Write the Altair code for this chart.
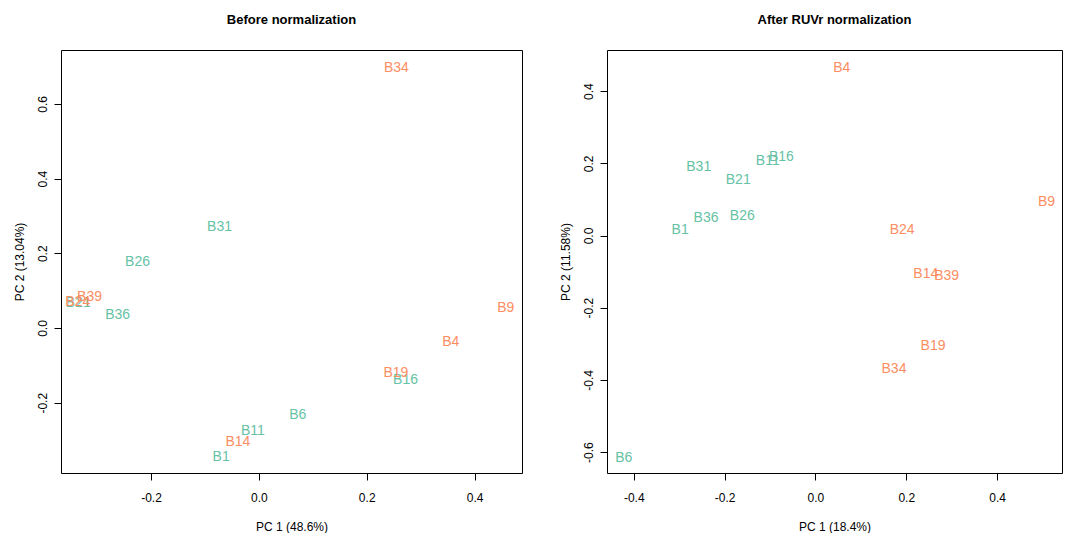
import altair as alt
import pandas as pd

samples = ["B1", "B4", "B6", "B9", "B11", "B14", "B16", "B19", "B21", "B24",
           "B26", "B31", "B34", "B36", "B39"]
groups = ["G1", "G2", "G1", "G2", "G1", "G2", "G1", "G2", "G1", "G2",
          "G1", "G1", "G2", "G1", "G2"]

before_pc1 = [-0.070, 0.356, 0.072, 0.458, -0.011, -0.039, 0.272, 0.254, -0.335, -0.336,
              -0.225, -0.073, 0.255, -0.262, -0.314]
before_pc2 = [-0.345, -0.037, -0.233, 0.054, -0.276, -0.305, -0.139, -0.120, 0.067, 0.070,
              0.177, 0.270, 0.696, 0.035, 0.083]

after_pc1 = [-0.298, 0.058, -0.422, 0.509, -0.105, 0.243, -0.075, 0.259, -0.170, 0.191,
             -0.161, -0.257, 0.173, -0.241, 0.289]
after_pc2 = [0.016, 0.464, -0.617, 0.092, 0.207, -0.107, 0.217, -0.306, 0.153, 0.016,
             0.054, 0.189, -0.370, 0.048, -0.112]

before_xticks = [-0.2, 0.0, 0.2, 0.4]
before_yticks = [-0.2, 0.0, 0.2, 0.4, 0.6]
after_xticks = [-0.4, -0.2, 0.0, 0.2, 0.4]
after_yticks = [-0.6, -0.4, -0.2, 0.0, 0.2, 0.4]

group_names = ["G1", "G2"]
group_colors = ["#66C2A5", "#FC8D62"]

FONT = "Liberation Sans"
LABEL_EXPR = "datum.value < 0 ? '-' + format(-datum.value, '.1f') : format(datum.value, '.1f')"

df_before = pd.DataFrame({"sample": samples, "group": groups, "pc1": before_pc1, "pc2": before_pc2})
df_after = pd.DataFrame({"sample": samples, "group": groups, "pc1": after_pc1, "pc2": after_pc2})


def panel(df, title, xtitle, ytitle, xdom, ydom, xvals, yvals, width):
    common = dict(grid=False, domain=False, ticks=True, tickColor="black", tickSize=7,
                  labelFont=FONT, labelFontSize=12, labelColor="black",
                  titleFont=FONT, titleFontSize=12, titleFontWeight="normal",
                  titleColor="black", labelExpr=LABEL_EXPR)
    return alt.Chart(df).mark_text(font=FONT, fontSize=14, align="center", baseline="middle").encode(
        x=alt.X("pc1:Q", scale=alt.Scale(domain=xdom, nice=False, zero=False),
                axis=alt.Axis(values=xvals, title=xtitle, labelPadding=12, titlePadding=18, **common)),
        y=alt.Y("pc2:Q", scale=alt.Scale(domain=ydom, nice=False, zero=False),
                axis=alt.Axis(values=yvals, title=ytitle, labelAngle=270, labelAlign="center",
                              labelBaseline="bottom", labelPadding=5, titlePadding=10, **common)),
        text="sample:N",
        color=alt.Color("group:N", scale=alt.Scale(domain=group_names, range=group_colors), legend=None),
    ).properties(
        width=width, height=423,
        title=alt.TitleParams(title, font=FONT, fontSize=13, fontWeight="bold", anchor="middle",
                              frame="group", offset=23, color="black"),
    )


left = panel(df_before, "Before normalization", "PC 1 (48.6%)", "PC 2 (13.04%)",
             [-0.367, 0.488], [-0.388, 0.744], before_xticks, before_yticks, 461)
right = panel(df_after, "After RUVr normalization", "PC 1 (18.4%)", "PC 2 (11.58%)",
              [-0.459, 0.543], [-0.658, 0.514], after_xticks, after_yticks, 455)

chart = alt.hconcat(left, right, spacing=85, bounds="flush").properties(
    padding={"left": 4, "top": 5, "right": 0, "bottom": 0}
).configure_view(stroke="black", strokeWidth=1)

chart.save("out.html", embed_options={"renderer": "svg", "actions": False})
